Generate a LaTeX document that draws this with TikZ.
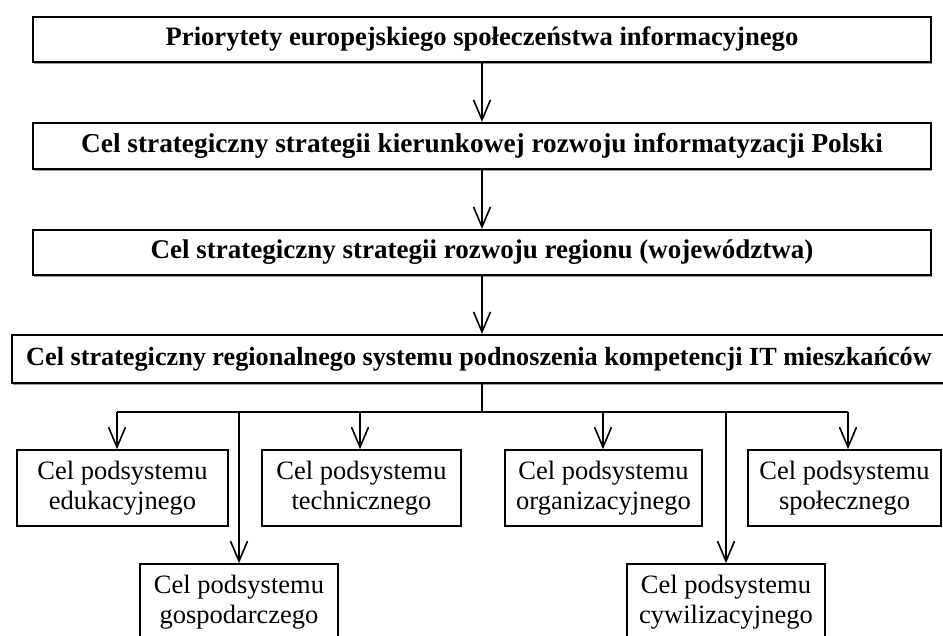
\documentclass[tikz,border=0pt]{standalone}
\usepackage{fontspec}
\setmainfont{Liberation Serif}
\usetikzlibrary{arrows.meta,shadows}
\begin{document}
\begin{tikzpicture}[x=1pt,y=-1pt,
  topbox/.style={draw, line width=2.2pt, fill=white, inner sep=0pt, anchor=center,
     drop shadow={shadow xshift=1.2pt, shadow yshift=-1.6pt, fill=gray!80, opacity=1}},
  subbox/.style={draw, line width=1.6pt, fill=white, inner sep=0pt, anchor=center, align=center,
     minimum height=76pt, font=\fontsize{26.5}{30}\selectfont},
  conn/.style={line width=1.6pt},
  arr/.style={conn, -{Straight Barb[length=20pt,width=17pt,line width=1.6pt]}}
]
\useasboundingbox (0,0) rectangle (943,635);
\clip (0,0) rectangle (943,635);

\node[topbox, minimum width=898pt, minimum height=45pt, font=\fontsize{26.6}{30}\selectfont\bfseries] (p1) at (482,39.5)
  {Priorytety europejskiego społeczeństwa informacyjnego};
\node[topbox, minimum width=898pt, minimum height=46pt, font=\fontsize{27.3}{30}\selectfont\bfseries] (p2) at (482,146)
  {Cel strategiczny strategii kierunkowej rozwoju informatyzacji Polski};
\node[topbox, minimum width=898pt, minimum height=45pt, font=\fontsize{27}{30}\selectfont\bfseries] (p3) at (482,252.5)
  {Cel strategiczny strategii rozwoju regionu (województwa)};
\node[topbox, minimum width=934pt, minimum height=48pt, font=\fontsize{26.2}{30}\selectfont\bfseries] (p4) at (479,359)
  {Cel strategiczny regionalnego systemu podnoszenia kompetencji IT mieszkańców};

\node[subbox, minimum width=211pt] (edu) at (122.5,488) {Cel podsystemu\\edukacyjnego};
\node[subbox, minimum width=199pt] (tech) at (361.5,488) {Cel podsystemu\\technicznego};
\node[subbox, minimum width=197pt] (org) at (603.5,488) {Cel podsystemu\\organizacyjnego};
\node[subbox, minimum width=193pt] (spol) at (844.5,488) {Cel podsystemu\\społecznego};
\node[subbox, minimum width=198pt] (gosp) at (239,602) {Cel podsystemu\\gospodarczego};
\node[subbox, minimum width=198pt] (cyw) at (726,602) {Cel podsystemu\\cywilizacyjnego};

\draw[arr] (p1) -- (p2);
\draw[arr] (p2) -- (p3);
\draw[arr] (p3) -- (p4.north -| p3);

\coordinate (hub) at (482,412);
\coordinate (b1) at (117,412);
\coordinate (b2) at (239,412);
\coordinate (b3) at (360,412);
\coordinate (b4) at (603,412);
\coordinate (b5) at (726,412);
\coordinate (b6) at (848,412);
\draw[conn] (p4.south -| hub) -- (hub);
\draw[conn] (b1) -- (b6);
\draw[arr] (b1) -- (b1 |- edu.north);
\draw[arr] (b2) -- (b2 |- gosp.north);
\draw[arr] (b3) -- (b3 |- tech.north);
\draw[arr] (b4) -- (b4 |- org.north);
\draw[arr] (b5) -- (b5 |- cyw.north);
\draw[arr] (b6) -- (b6 |- spol.north);
\end{tikzpicture}
\end{document}
